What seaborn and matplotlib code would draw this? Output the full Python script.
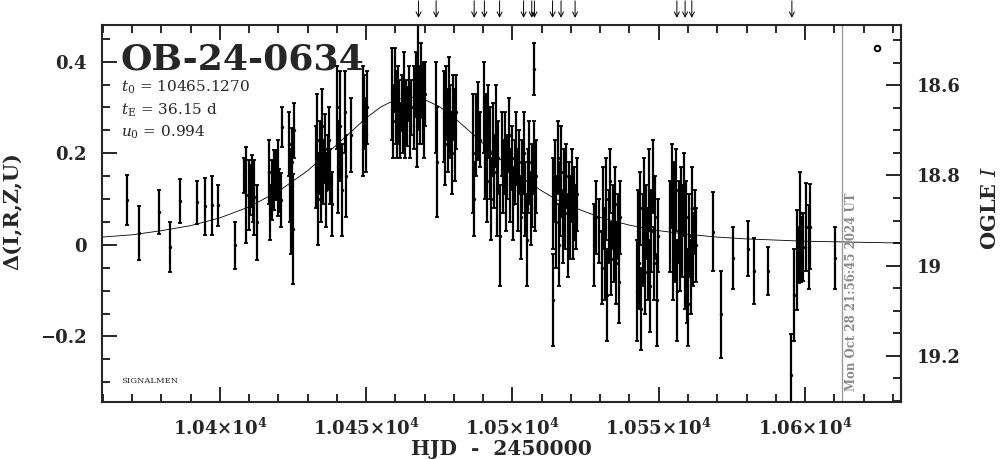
import matplotlib
matplotlib.use('Agg')
import matplotlib.pyplot as plt
import matplotlib.transforms as mtransforms
from matplotlib.ticker import MultipleLocator, FuncFormatter
import seaborn as sns

# photometry (HJD-2450000, delta mag, error)
hjd = [
    # sparse early points
    10368.3, 10372.2, 10379.3, 10383.1, 10386.2, 10392.2, 10395.0, 10397.3, 10399.2, 10405.3,
    10408.3, 10409.0, 10409.8, 10410.4, 10410.9, 10411.2, 10411.7, 10412.6,
    10416.8, 10417.1, 10417.8, 10418.4, 10419.2, 10419.7, 10420.3, 10420.8, 10421.2,
    10423.7, 10424.0, 10424.3, 10424.6, 10424.9, 10425.2,
    10432.7, 10433.2, 10433.6, 10434.1, 10434.5, 10435.0, 10435.4, 10435.9, 10436.3, 10436.8, 10437.3, 10437.8, 10438.2,
    10440.0, 10440.4, 10441.2, 10441.6, 10442.8, 10443.1, 10444.7,
    10449.0, 10449.4, 10449.8, 10450.2,
    # around the peak
    10458.9, 10459.3, 10459.7, 10460.1, 10460.5, 10460.9, 10461.3, 10461.7, 10462.1,
    10462.5, 10462.9, 10463.3, 10463.7, 10464.1, 10464.5, 10464.9, 10465.3,
    10466.5, 10466.9, 10467.3, 10467.7, 10468.1, 10468.5, 10468.9, 10469.3, 10469.7, 10470.2,
    10473.8, 10474.1, 10476.6, 10477.0, 10477.4, 10477.9, 10478.3, 10478.8, 10479.3, 10479.8, 10480.3, 10480.8,
    10486.6, 10486.8, 10487.4, 10488.3, 10488.9,
    10490.2, 10490.6, 10491.0, 10491.4, 10491.8, 10492.3, 10492.7, 10493.2, 10493.7, 10494.2,
    10494.7, 10495.2, 10495.6, 10496.3, 10496.8, 10497.3, 10497.8, 10498.3, 10498.8, 10499.3,
    10499.8, 10500.3, 10500.8, 10501.3, 10501.8, 10502.3, 10502.8, 10503.3, 10503.8, 10504.3,
    10504.8, 10505.3, 10505.8, 10506.3, 10506.8, 10507.2, 10507.5, 10507.6, 10508.1,
    # falling branch
    10513.7, 10513.9, 10514.5, 10515.0, 10515.4, 10515.9, 10516.3, 10516.7, 10517.1, 10517.5,
    10518.0, 10518.4, 10518.9, 10519.3, 10519.8, 10520.2, 10520.7, 10521.1, 10521.6, 10522.0,
    10527.9, 10528.4, 10529.5, 10530.6, 10531.0, 10531.6, 10532.0, 10532.4, 10532.9,
    10533.3, 10533.8, 10534.2, 10534.6, 10535.0, 10535.5, 10535.9, 10536.4, 10536.8,
    10542.6, 10542.9, 10543.3, 10543.7, 10544.1, 10544.6, 10545.0, 10545.4, 10545.8,
    10546.3, 10546.7, 10547.1, 10547.5, 10548.0, 10548.4, 10548.8, 10549.3, 10549.7,
    10554.0, 10554.4, 10554.8, 10555.2, 10555.6, 10556.0, 10556.4, 10556.8, 10557.3, 10557.7, 10558.1,
    10558.5, 10558.9, 10559.3, 10559.7, 10560.1, 10560.5, 10561.0, 10561.4, 10561.8, 10562.3, 10562.8,
    # baseline
    10568.7, 10571.4, 10575.5, 10580.4, 10582.6, 10587.5, 10595.2, 10596.2, 10597.1,
    10597.9, 10598.3, 10598.5, 10599.4, 10600.3, 10601.3, 10601.7, 10610.2,
]
dmag = [
    0.098, 0.026, 0.071, -0.004, 0.095, 0.093, 0.084, 0.086, 0.086, -0.001,
    0.152, 0.109, 0.109, 0.120, 0.140, 0.100, 0.104, 0.049,
    0.160, 0.070, 0.120, 0.142, 0.153, 0.146, 0.118, 0.098, 0.258,
    0.22, 0.13, 0.06, 0.18, 0.035, 0.25,
    0.17, 0.23, 0.10, 0.19, 0.14, 0.26, 0.16, 0.21, 0.12, 0.18, 0.23, 0.15, 0.09,
    0.30, 0.17, 0.26, 0.12, 0.29, 0.15, 0.24,
    0.27, 0.29, 0.24, 0.30,
    0.33, 0.27, 0.36, 0.30, 0.26, 0.33, 0.29, 0.25, 0.31,
    0.27, 0.34, 0.26, 0.30, 0.28, 0.33, 0.26, 0.30,
    0.30, 0.35, 0.26, 0.38, 0.32, 0.28, 0.36, 0.31, 0.27, 0.33,
    0.30, 0.18, 0.28, 0.22, 0.31, 0.25, 0.34, 0.27, 0.20, 0.30, 0.24, 0.29,
    0.20, 0.10, 0.24, 0.27, 0.23,
    0.30, 0.18, 0.24, 0.14, 0.27, 0.20, 0.10, 0.23, 0.16, 0.26,
    0.12, 0.19, 0.02, 0.22, 0.15, 0.20, 0.11, 0.17, 0.24, 0.13,
    0.19, 0.09, 0.16, 0.21, 0.12, 0.18, 0.06, 0.15, 0.20, 0.10,
    0.01, 0.14, 0.18, 0.08, 0.13, 0.19, 0.384, 0.10, 0.15,
    0.09, -0.12, 0.14, 0.05, 0.19, 0.00, 0.10, 0.16, 0.04, 0.12,
    0.07, 0.15, 0.02, 0.10, 0.06, 0.13, 0.04, 0.09, 0.06, 0.11,
    0.00, 0.06, 0.03, -0.05, 0.08, -0.02, 0.10, -0.11, 0.04,
    0.14, -0.03, 0.06, 0.01, 0.09, -0.04, 0.04, -0.08, 0.06,
    -0.10, 0.03, -0.04, 0.08, -0.14, 0.01, 0.10, -0.06, 0.05,
    -0.02, 0.12, -0.09, 0.03, 0.15, -0.04, 0.06, -0.12, 0.02,
    0.04, 0.13, -0.03, 0.08, 0.00, 0.12, -0.10, 0.05, -0.02, 0.09, 0.03,
    0.11, -0.05, 0.06, -0.09, -0.13, 0.02, -0.07, 0.08, -0.01, 0.05, 0.00,
    0.029, -0.151, -0.028, -0.008, -0.057, -0.057, -0.284, -0.110, -0.033,
    -0.022, 0.070, -0.010, -0.004, 0.040, -0.004, 0.040, -0.029,
]
dmag_err = [
    0.054, 0.059, 0.048, 0.055, 0.048, 0.047, 0.062, 0.064, 0.045, 0.052,
    0.038, 0.105, 0.076, 0.055, 0.057, 0.050, 0.082, 0.082,
    0.070, 0.060, 0.066, 0.066, 0.055, 0.082, 0.047, 0.060, 0.044,
    0.07, 0.08, 0.08, 0.075, 0.12, 0.06,
    0.09, 0.10, 0.10, 0.08, 0.09, 0.08, 0.07, 0.075, 0.08, 0.06, 0.07, 0.06, 0.07,
    0.09, 0.10, 0.12, 0.10, 0.09, 0.09, 0.08,
    0.12, 0.08, 0.08, 0.08,
    0.10, 0.08, 0.07, 0.08, 0.07, 0.06, 0.07, 0.06, 0.06,
    0.07, 0.08, 0.07, 0.06, 0.065, 0.06, 0.07, 0.06,
    0.09, 0.07, 0.09, 0.10, 0.07, 0.06, 0.08, 0.09, 0.08, 0.07,
    0.10, 0.12, 0.10, 0.09, 0.08, 0.09, 0.07, 0.08, 0.09, 0.07, 0.10, 0.08,
    0.13, 0.08, 0.09, 0.085, 0.06,
    0.10, 0.08, 0.09, 0.09, 0.08, 0.10, 0.09, 0.08, 0.08, 0.09,
    0.10, 0.08, 0.11, 0.07, 0.08, 0.09, 0.08, 0.07, 0.08, 0.08,
    0.07, 0.08, 0.07, 0.08, 0.09, 0.07, 0.09, 0.08, 0.09, 0.08,
    0.10, 0.07, 0.09, 0.08, 0.09, 0.08, 0.057, 0.07, 0.08,
    0.10, 0.10, 0.09, 0.10, 0.08, 0.09, 0.08, 0.10, 0.08, 0.09,
    0.08, 0.07, 0.09, 0.08, 0.09, 0.08, 0.07, 0.08, 0.07, 0.08,
    0.09, 0.08, 0.07, 0.08, 0.09, 0.10, 0.09, 0.10, 0.08,
    0.07, 0.08, 0.07, 0.09, 0.08, 0.09, 0.07, 0.09, 0.08,
    0.11, 0.09, 0.10, 0.08, 0.09, 0.10, 0.09, 0.09, 0.08,
    0.10, 0.09, 0.10, 0.09, 0.08, 0.08, 0.09, 0.10, 0.08,
    0.10, 0.09, 0.09, 0.10, 0.08, 0.09, 0.11, 0.09, 0.08, 0.08, 0.10,
    0.09, 0.09, 0.08, 0.08, 0.09, 0.09, 0.08, 0.09, 0.08, 0.07, 0.08,
    0.086, 0.095, 0.068, 0.061, 0.072, 0.053, 0.090, 0.100, 0.110,
    0.062, 0.090, 0.070, 0.074, 0.096, 0.092, 0.092, 0.068,
]

# fitted model curve
model_hjd = [10359.7, 10370, 10380, 10390, 10400, 10410, 10420, 10430, 10440, 10450, 10455,
             10460, 10465.1, 10470, 10475, 10480, 10485, 10490, 10495, 10500, 10505, 10510,
             10515, 10520, 10530, 10540, 10550, 10560, 10570, 10580, 10600, 10632.8]
model_dmag = [0.017, 0.022, 0.031, 0.042, 0.059, 0.083, 0.117, 0.162, 0.219, 0.277, 0.301,
              0.317, 0.323, 0.317, 0.302, 0.278, 0.250, 0.221, 0.191, 0.164, 0.139, 0.118,
              0.099, 0.084, 0.060, 0.043, 0.031, 0.023, 0.017, 0.013, 0.008, 0.004]

# alert arrows along the top
arrow_hjd = [10467.9, 10473.9, 10486.9, 10490.4, 10495.6, 10503.8, 10506.6, 10507.5,
             10513.7, 10516.6, 10521.4, 10556.2, 10559.0, 10561.3, 10595.5]

event_name = 'OB-24-0634'
fit_lines = [r'$t_0$ = 10465.1270', r'$t_{\rm E}$ = 36.15 d', r'$u_0$ = 0.994']
stamp = 'Mon Oct 28 21:56:45 2024 UT'
now_hjd = 10612.5
base_mag = 18.954
mag_scale = 1.0155

sns.set_style('ticks')
plt.rcParams['font.family'] = ['DejaVu Serif']
plt.rcParams['mathtext.fontset'] = 'dejavuserif'

fig = plt.figure(figsize=(10.04, 4.59), dpi=100)
ax = fig.add_axes([102 / 1004, 1 - 402 / 459, 799 / 1004, 377 / 459])

ax.errorbar(hjd, dmag, yerr=dmag_err, fmt='none', ecolor='black',
            elinewidth=1.6, capsize=1.5, capthick=1.3)
sns.scatterplot(x=hjd, y=dmag, ax=ax, color='black', s=6, linewidth=0, zorder=3)
sns.lineplot(x=model_hjd, y=model_dmag, ax=ax, color='black', lw=0.6)

ax.axvline(now_hjd, color='#9a9a9a', lw=1.0)
trans = mtransforms.blended_transform_factory(ax.transData, ax.transAxes)
ax.text(now_hjd + 1.0, 0.03, stamp, transform=trans, rotation=90, color='#8a8a8a',
        fontsize=8.5, fontweight='bold', ha='left', va='bottom')
ax.plot([10624.6], [0.43], 'o', mfc='none', mec='black', ms=4, mew=1.4)

for x in arrow_hjd:
    ax.annotate('', xy=(x, 1.019), xytext=(x, 1.064), xycoords=trans, textcoords=trans,
                arrowprops=dict(arrowstyle='->,head_length=0.35,head_width=0.18',
                                lw=0.7, color='black', shrinkA=0, shrinkB=0),
                annotation_clip=False)

ax.set_xlim(10359.7, 10632.8)
ax.set_ylim(-0.343, 0.48)
ax.set_xlabel('')
ax.set_ylabel('')

ax.xaxis.set_major_locator(MultipleLocator(50))
ax.xaxis.set_minor_locator(MultipleLocator(10))
ax.xaxis.set_major_formatter(
    FuncFormatter(lambda v, p: r'$\mathbf{' + f'{v / 1e4:g}' + r'{\times}10^{4}}$'))
ax.yaxis.set_major_locator(MultipleLocator(0.2))
ax.yaxis.set_minor_locator(MultipleLocator(0.05))
ax.yaxis.set_major_formatter(FuncFormatter(lambda v, p: f'{v:g}'.replace('-', '−')))
ax.tick_params(which='both', direction='in', top=True, right=False, width=1.4)
ax.tick_params(which='major', length=11, labelsize=13, pad=11)
ax.tick_params(which='minor', length=6)
for lab in ax.get_xticklabels() + ax.get_yticklabels():
    lab.set_fontweight('bold')
for sp in ax.spines.values():
    sp.set_linewidth(1.5)

secax = ax.secondary_yaxis('right', functions=(lambda d: base_mag - mag_scale * d,
                                               lambda m: (base_mag - m) / mag_scale))
secax.yaxis.set_major_locator(MultipleLocator(0.2))
secax.yaxis.set_minor_locator(MultipleLocator(0.05))
secax.yaxis.set_major_formatter(FuncFormatter(lambda v, p: f'{v:g}'))
secax.yaxis.get_offset_text().set_visible(False)
secax.tick_params(which='both', direction='in', width=1.4)
secax.tick_params(which='major', length=11, labelsize=13, pad=11)
secax.tick_params(which='minor', length=6)
secax.spines['right'].set_linewidth(1.5)
for lab in secax.get_yticklabels():
    lab.set_fontweight('bold')

fig.text(121 / 1004, 1 - 69 / 459, event_name, fontsize=26, fontweight='bold', va='baseline')
for i, line in enumerate(fit_lines):
    fig.text(121 / 1004, 1 - (92 + 22.5 * i) / 459, line, fontsize=11, va='baseline')
fig.text(121 / 1004, 1 - 383 / 459, 'SIGNALMEN', fontsize=6, va='baseline')

fig.text(501 / 1004, 1 - 449 / 459, 'HJD  -  2450000', fontsize=14.5, fontweight='bold',
         ha='center', va='center')
fig.text(13 / 1004, 1 - 211 / 459, 'Δ(I,R,Z,U)', fontsize=15, fontweight='bold',
         rotation=90, ha='center', va='center')
fig.text(990 / 1004, 1 - 208 / 459, r'OGLE $I$', fontsize=15, fontweight='bold',
         rotation=90, ha='center', va='center')

fig.savefig('out.png', dpi=100)
